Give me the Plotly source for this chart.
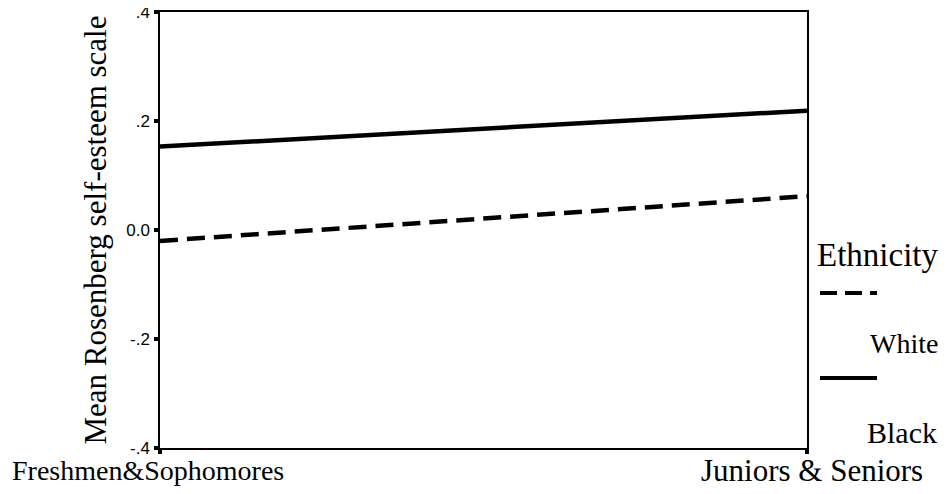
import plotly.graph_objects as go

categories = ["Freshmen&Sophomores", "Juniors & Seniors"]
white_vals = [-0.020, 0.062]
black_vals = [0.153, 0.219]
y_ticks = [-0.4, -0.2, 0.0, 0.2, 0.4]
y_ticktext = ["-.4", "-.2", "0.0", ".2", ".4"]

xpos = list(range(len(categories)))

fig = go.Figure()
fig.add_trace(go.Scatter(x=xpos, y=white_vals, mode="lines", name="White",
                         line=dict(color="black", width=4.5, dash="18px,9px")))
fig.add_trace(go.Scatter(x=xpos, y=black_vals, mode="lines", name="Black",
                         line=dict(color="black", width=4.5)))

serif = "Liberation Serif, Times New Roman, serif"

# the page adds an ~8px offset; margins chosen so the plot lands at x 160..807, y 12..448
L, R, T, B = 152, 148, 4, 54
W, H = 947, 494


def px(x):
    return (x - 160) / 647


def py(y):
    return (448 - y) / 436


fig.update_layout(
    width=W, height=H,
    margin=dict(l=L, r=R, t=T, b=B, autoexpand=False),
    paper_bgcolor="white", plot_bgcolor="white",
    showlegend=False,
    xaxis=dict(range=[0, 1], tickvals=xpos, showticklabels=False,
               showgrid=False, zeroline=False, showline=True, linecolor="black",
               linewidth=1.5, mirror=True, ticks="outside", ticklen=4, tickwidth=4,
               tickcolor="black"),
    yaxis=dict(range=[-0.4, 0.4], tickvals=y_ticks, ticktext=y_ticktext,
               showgrid=False, zeroline=False, showline=True, linecolor="black",
               linewidth=1.5, mirror=True, ticks="outside", ticklen=4, tickwidth=4,
               tickcolor="black", automargin=False, ticklabelstandoff=1,
               ticklabeloverflow="allow",
               tickfont=dict(family="Liberation Sans, Arial, sans-serif", size=17, color="black"),
               title=dict(text="Mean Rosenberg self-esteem scale",
                          font=dict(family=serif, size=31, color="black"), standoff=10)),
)

# category labels placed on the x scale
label_sizes = [28, 31]
label_shift = [-12, 5]
for xv, txt, fs, sh in zip(xpos, categories, label_sizes, label_shift):
    fig.add_annotation(xref="x", yref="paper", x=xv, y=py(470), xanchor="center",
                       yanchor="middle", text=txt, showarrow=False, xshift=sh,
                       font=dict(family=serif, size=fs, color="black"))

# Legend-like annotations on the right
fig.add_annotation(xref="paper", yref="paper", x=px(815), y=py(255),
                   xanchor="left", yanchor="middle", text="Ethnicity", showarrow=False,
                   font=dict(family=serif, size=33, color="black"))
fig.add_annotation(xref="paper", yref="paper", x=px(868), y=py(343),
                   xanchor="left", yanchor="middle", text="White", showarrow=False,
                   font=dict(family=serif, size=28, color="black"))
fig.add_annotation(xref="paper", yref="paper", x=px(865), y=py(432),
                   xanchor="left", yanchor="middle", text="Black", showarrow=False,
                   font=dict(family=serif, size=30, color="black"))
fig.add_shape(type="line", xref="paper", yref="paper",
              x0=px(820), x1=px(877), y0=py(293), y1=py(293),
              line=dict(color="black", width=4, dash="17px,8px"))
fig.add_shape(type="line", xref="paper", yref="paper",
              x0=px(820), x1=px(877), y0=py(378), y1=py(378),
              line=dict(color="black", width=4))

fig.write_html("out.html")
